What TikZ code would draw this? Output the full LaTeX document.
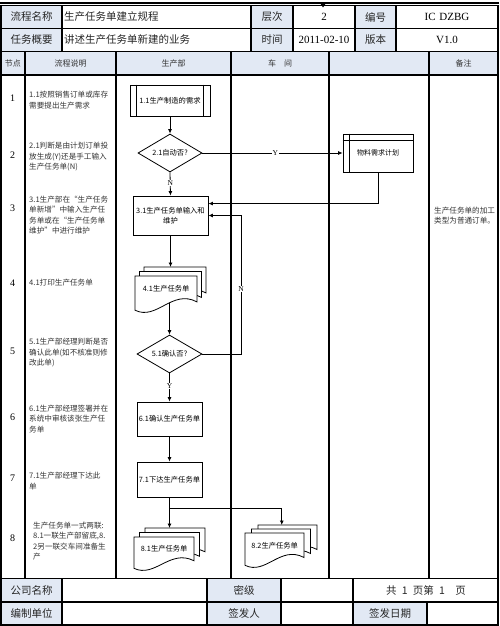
\documentclass[tikz,border=0pt]{standalone}
\usepackage{fontspec}
\setmainfont{Liberation Serif}
\newfontfamily\cjk{Noto Sans CJK SC}
\usetikzlibrary{shapes.geometric,arrows.meta,calc}
\definecolor{hdrblue}{RGB}{226,233,244}
\pgfdeclarelayer{bg}
\pgfsetlayers{bg,main}
\newcommand\docpath[4]{%
  \filldraw[flow,fill=white] (#1,#2) -- ({#1+#3},#2) -- ({#1+#3},{#2+0.72*#4})
    .. controls ({#1+0.6*#3},{#2+0.35*#4}) and ({#1+0.35*#3},{#2+1.25*#4}) .. (#1,{#2+0.95*#4}) -- cycle;}
\newcommand\multidoc[8]{%
  \pgfmathsetmacro\mdxa{#2+2*#6}\pgfmathsetmacro\mdya{#3-2*#7}%
  \pgfmathsetmacro\mdxb{#2+#6}\pgfmathsetmacro\mdyb{#3-#7}%
  \docpath{\mdxa}{\mdya}{#4}{#5}%
  \docpath{\mdxb}{\mdyb}{#4}{#5}%
  \docpath{#2}{#3}{#4}{#5}%
  \node[inner sep=0pt, minimum width=#4pt, minimum height=5pt, anchor=north west] (#1back) at (\mdxa,\mdya) {};
  \node[doctext, minimum width=#4pt, minimum height={0.72*#5pt}, anchor=north west] (#1) at (#2,#3) {#8};
}
\begin{document}
\begin{tikzpicture}[x=1pt,y=-1pt,
  tbl/.style={line width=1.1pt},
  flow/.style={line width=0.8pt},
  arr/.style={flow,-{Latex[length=4.5pt,width=4pt]}},
  hdr/.style={font=\cjk\fontsize{10.5}{12}\selectfont, text=black!85, inner sep=0pt},
  hval/.style={font=\fontsize{11}{12}\selectfont, inner sep=0pt},
  colh/.style={font=\cjk\fontsize{8}{9}\selectfont, text=black!80, inner sep=0pt},
  num/.style={font=\fontsize{10}{12}\selectfont, inner sep=0pt},
  desc/.style={anchor=west, align=left, font=\cjk\fontsize{7.6}{10.5}\selectfont, text=black!80, inner sep=0pt},
  procbox/.style={draw, flow, fill=white, align=center, inner sep=1pt, font=\cjk\fontsize{7.3}{10.5}\selectfont},
  decision/.style={diamond, draw, flow, fill=white, aspect=1.7, inner sep=0pt, font=\cjk\fontsize{7.3}{9}\selectfont},
  doctext/.style={inner sep=0pt, align=center, font=\cjk\fontsize{7.3}{9}\selectfont},
  yn/.style={fill=white, inner sep=0.6pt, font=\fontsize{7.5}{8}\selectfont}
]
\useasboundingbox (0,0) rectangle (499,626);
% top line
\coordinate (tl) at (0,3);
\coordinate (tr) at (499,3);
\draw[line width=1.1pt] (tl) -- (tr);
\fill (320,3) -- (326,3) -- (323,7.5) -- cycle;
% fills
\fill[hdrblue] (1,5.5) rectangle (62,51.5);
\fill[hdrblue] (251,5.5) rectangle (293,51.5);
\fill[hdrblue] (355,5.5) rectangle (396,51.5);
\fill[hdrblue] (1,51.5) rectangle (498,75);
\fill[hdrblue] (1,578.5) rectangle (62,625);
\fill[hdrblue] (207,578.5) rectangle (281,625);
\fill[hdrblue] (353,602) rectangle (427,625);
% table lines
\draw[tbl] (1,5.5) rectangle (498,75);
\draw[tbl] (1,28.5) -- (498,28.5);
\draw[tbl] (1,51.5) -- (498,51.5);
\foreach \xx in {62,251,293,355,396} \draw[tbl] (\xx,5.5) -- (\xx,51.5);
\foreach \xx in {1,25,116,231,329,429,498} \draw[tbl] (\xx,51.5) -- (\xx,578.5);
\draw[tbl] (1,578.5) rectangle (498,625);
\draw[tbl] (1,602) -- (498,602);
\foreach \xx in {62,207,281,353} \draw[tbl] (\xx,578.5) -- (\xx,625);
\draw[tbl] (427,602) -- (427,625);
% header texts
\node[hdr] (t1) at (31.5,17) {流程名称};
\node[hdr] (t2) at (31.5,40) {任务概要};
\node[hdr, anchor=west] (t3) at (64,17) {生产任务单建立规程};
\node[hdr, anchor=west] (t4) at (64,40) {讲述生产任务单新建的业务};
\node[hdr] (t5) at (272,17) {层次};
\node[hdr] (t6) at (272,40) {时间};
\node[hval] (t7) at (324,17) {2};
\node[hval] (t8) at (324,40) {2011-02-10};
\node[hdr] (t9) at (375.5,17) {编号};
\node[hdr] (t10) at (375.5,40) {版本};
\node[hval] (t11) at (447,17) {IC\,\,DZBG};
\node[hval] (t12) at (447,40) {V1.0};
% column headers
\node[colh] (c1) at (13,63.5) {节点};
\node[colh] (c2) at (70.5,63.5) {流程说明};
\node[colh] (c3) at (173.5,63.5) {生产部};
\node[colh] (c4) at (280,63.5) {车\quad 间};
\node[colh] (c6) at (463.5,63.5) {备注};
% bottom
\node[hdr] (f1) at (31.5,590.5) {公司名称};
\node[hdr] (f2) at (31.5,613.5) {编制单位};
\node[hdr] (f3) at (244,590.5) {密级};
\node[hdr] (f4) at (244,613.5) {签发人};
\node[hdr] (f5) at (426,590.5) {共\enspace 1\enspace 页第\enspace 1\enspace\enspace 页};
\node[hdr] (f6) at (390,613.5) {签发日期};
% node numbers
\node[num] (k1) at (12.5,98) {1};
\node[num] (k2) at (12.5,155) {2};
\node[num] (k3) at (12.5,208) {3};
\node[num] (k4) at (12.5,283) {4};
\node[num] (k5) at (12.5,351) {5};
\node[num] (k6) at (12.5,417) {6};
\node[num] (k7) at (12.5,478) {7};
\node[num] (k8) at (12.5,538) {8};
% descriptions
\node[desc] (s1) at (29,100) {1.1按照销售订单或库存\\需要提出生产需求};
\node[desc] (s2) at (29,157) {2.1判断是由计划订单投\\放生成(Y)还是手工输入\\生产任务单(N)};
\node[desc] (s3) at (29,215) {3.1生产部在“生产任务\\单新增”中输入生产任\\务单或在“生产任务单\\维护”中进行维护};
\node[desc] (s4) at (29,283) {4.1打印生产任务单};
\node[desc] (s5) at (29,353) {5.1生产部经理判断是否\\确认此单(如不核准则修\\改此单)};
\node[desc] (s6) at (29,419) {6.1生产部经理签署并在\\系统中审核该张生产任\\务单};
\node[desc] (s7) at (29,481) {7.1生产部经理下达此\\单};
\node[desc] (s8) at (33,541) {生产任务单一式两联:\\8.1一联生产部留底,8.\\2另一联交车间准备生\\产};
\node[desc] (r1) at (434,215.5) {生产任务单的加工\\类型为普通订单。};
% flow shapes
\node[procbox, minimum width=80pt, minimum height=31pt] (n11) at (170,100.5) {1.1生产制造的需求};
\draw[flow] ($(n11.north west)+(7,0)$) -- ($(n11.south west)+(7,0)$);
\draw[flow] ($(n11.north east)+(-7,0)$) -- ($(n11.south east)+(-7,0)$);
\node[decision, minimum width=64pt, minimum height=38pt] (d21) at (170,153) {2.1自动否?};
\node[procbox, minimum width=75pt, minimum height=39pt] (b31) at (170.5,215.5) {3.1生产任务单输入和\\维护};
\node[draw, flow, fill=white, minimum width=70pt, minimum height=38pt, inner sep=0pt] (mrp) at (378,153) {};
\draw[flow] ($(mrp.north west)+(7,0)$) -- ($(mrp.south west)+(7,0)$);
\draw[flow] ($(mrp.north west)+(0,7)$) -- ($(mrp.north east)+(0,7)$);
\node[doctext, font=\cjk\fontsize{7}{9}\selectfont] (mrpt) at (378,153) {物料需求计划};
\multidoc{doc41}{135}{276}{62}{36}{4.5}{4.5}{4.1生产任务单}
\node[decision, minimum width=65pt, minimum height=38pt] (d51) at (169.5,354) {5.1确认否?};
\node[procbox, minimum width=65pt, minimum height=34pt] (b61) at (169.5,419) {6.1确认生产任务单};
\node[procbox, minimum width=65pt, minimum height=35pt] (b71) at (169.5,479.5) {7.1下达生产任务单};
\multidoc{doc81}{134}{537}{60}{33}{5.5}{4.5}{8.1生产任务单}
\multidoc{doc82}{245}{533}{59}{34}{6.5}{4}{8.2生产任务单}
% connectors
\draw[arr] (n11.south) -- (d21.north);
\draw[arr] (d21.south) -- node[yn, pos=0.45] (lN1) {N} (b31.north);
\draw[arr] (d21.east) -- node[yn, pos=0.52] (lY1) {Y} (mrp.west);
\coordinate (b31a) at ($(b31.north east)!0.2!(b31.south east)$);
\coordinate (b31b) at ($(b31.north east)!0.5!(b31.south east)$);
\draw[arr] (mrp.south) |- (b31a);
\coordinate (loopc) at (241,354);
\draw[arr] (d51.east) -- (loopc) -- node[yn, pos=0.47] (lN2) {N} (loopc |- b31b) -- (b31b);
\draw[arr] (b31.south) -- (b31.south |- doc41back.north);
\begin{pgfonlayer}{bg}
\draw[arr] (doc41.south -| d51.north) -- (d51.north);
\end{pgfonlayer}
\draw[arr] (d51.south) -- node[yn, pos=0.45] (lY2) {Y} (b61.north);
\draw[arr] (b61.south) -- (b71.north);
\draw[arr] (b71.south) -- (b71.south |- doc81back.north);
\coordinate (br) at ($(b71.south)+(0,11)$);
\coordinate (d82in) at ($(doc82back.north west)!0.4!(doc82back.north east)$);
\draw[arr] (br) -| (d82in);
\end{tikzpicture}
\end{document}
